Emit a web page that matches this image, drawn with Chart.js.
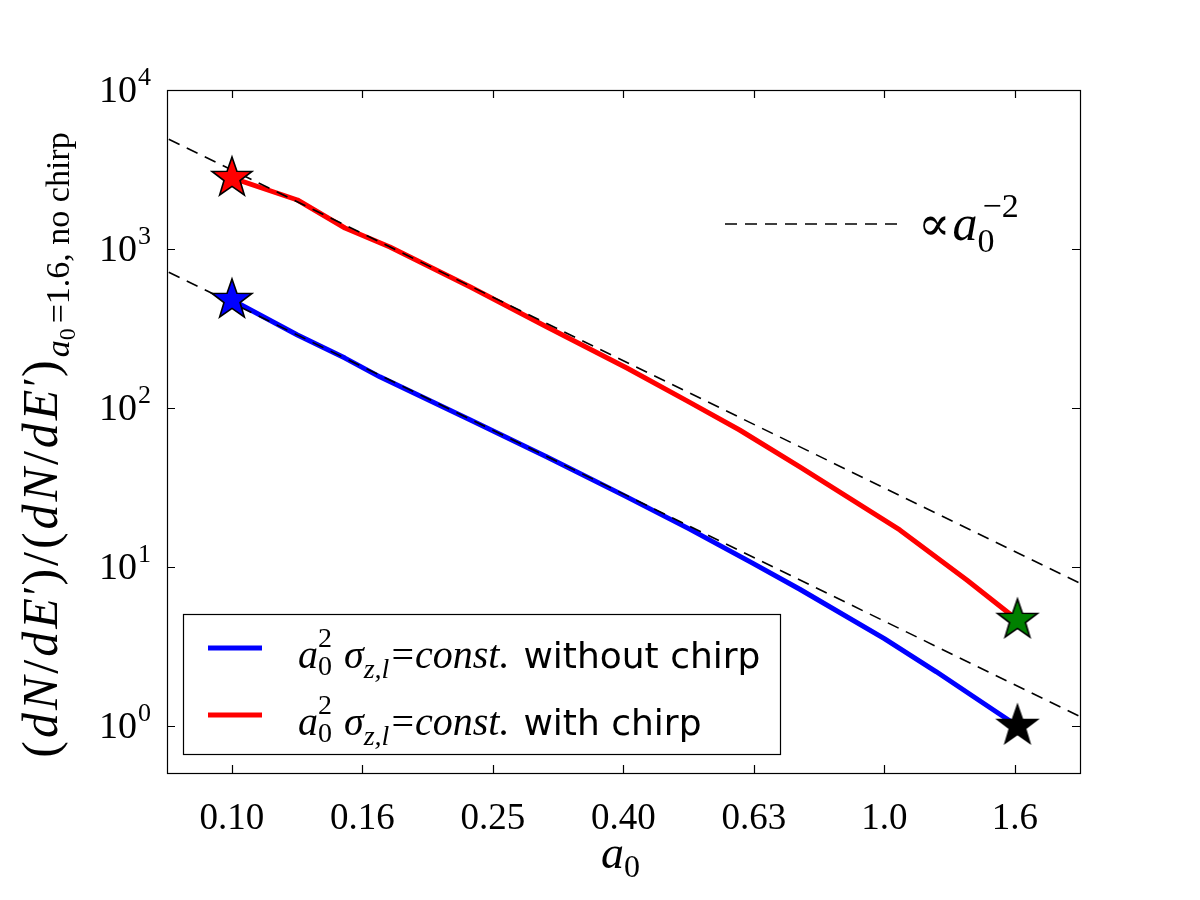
<!DOCTYPE html>
<html>
<head>
<meta charset="utf-8">
<script src="https://cdn.jsdelivr.net/npm/chart.js@4.4.1/dist/chart.umd.min.js"></script>
<style>
  html, body { margin: 0; padding: 0; background: #fff; }
  #wrap { width: 1200px; height: 900px; }
</style>
</head>
<body>
<div id="wrap"><canvas id="c" width="1200" height="900"></canvas></div>
<script>
// ---------- data ----------
const aNoChirp = [0.10, 0.126, 0.149, 0.1685, 0.232, 0.304, 0.40, 0.503, 0.63, 0.742, 1.0, 1.2, 1.4, 1.6];
const vNoChirp = [478, 288, 206, 157, 84, 49.2, 28.0, 17.3, 10.5, 7.24, 3.54, 2.20, 1.44, 1.0];

const aChirp = [0.10, 0.126, 0.149, 0.1746, 0.232, 0.304, 0.403, 0.5, 0.600, 0.742, 1.056, 1.338, 1.6];
const vChirp = [2797, 2033, 1355, 1030, 577, 323, 178.6, 110, 72.7, 42.6, 17.1, 8.28, 4.64];

// reference power-law guides (straight lines in log-log, end points)
const aGuide = [0.08, 2.0];
const vGuideUpper = [4906, 7.85];
const vGuideLower = [714, 1.14];

const xTickValues = [0.1, 0.1585, 0.2512, 0.3981, 0.631, 1.0, 1.585];
const xTickLabels = ["0.10", "0.16", "0.25", "0.40", "0.63", "1.0", "1.6"];
const yTickValues = [1, 10, 100, 1000, 10000];
const yTickExponents = ["0", "1", "2", "3", "4"];

const xRange = [0.0795, 1.995];
const yRange = [0.506, 10000];

// ---------- helpers ----------
const SERIF = '"Liberation Serif", "DejaVu Serif", serif';
const SANS = '"DejaVu Sans", "Liberation Sans", sans-serif';

function starImage(fill) {
  const R = 21, r = R * 0.4, size = 48;
  const cv = document.createElement('canvas');
  cv.width = size; cv.height = size;
  const g = cv.getContext('2d');
  g.beginPath();
  for (let i = 0; i < 10; i++) {
    const rad = i % 2 === 0 ? R : r;
    const ang = -Math.PI / 2 + i * Math.PI / 5;
    const px = size / 2 + rad * Math.cos(ang);
    const py = size / 2 + rad * Math.sin(ang);
    if (i === 0) g.moveTo(px, py); else g.lineTo(px, py);
  }
  g.closePath();
  g.fillStyle = fill;
  g.fill();
  g.lineWidth = 1.6;
  g.strokeStyle = '#000';
  g.lineJoin = 'miter';
  g.stroke();
  return cv;
}

// draw a run of text pieces; each piece {t, f (font), dy, sp}
function drawRun(ctx, x, y, parts, measureOnly) {
  let cx = x;
  for (const p of parts) {
    ctx.font = p.f;
    if (!measureOnly) ctx.fillText(p.t, cx, y + (p.dy || 0));
    cx += ctx.measureText(p.t).width + (p.sp || 0);
  }
  return cx - x;
}

function toPts(xs, ys) { return xs.map((x, i) => ({ x: x, y: ys[i] })); }

const starPoints = {
  red: [{ x: aChirp[0], y: vChirp[0] }],
  blue: [{ x: aNoChirp[0], y: vNoChirp[0] }],
  green: [{ x: aChirp[aChirp.length - 1], y: vChirp[vChirp.length - 1] }],
  black: [{ x: aNoChirp[aNoChirp.length - 1], y: vNoChirp[vNoChirp.length - 1] }]
};

// ---------- decoration plugin ----------
const deco = {
  id: 'deco',
  afterDatasetsDraw(chart) {
    const ctx = chart.ctx;
    ctx.save();
    ctx.fillStyle = '#000';
    ctx.textBaseline = 'alphabetic';
    ctx.textAlign = 'left';

    // --- guide label (top right) ---
    ctx.strokeStyle = '#000';
    ctx.lineWidth = 1.6;
    ctx.setLineDash([12, 8]);
    ctx.beginPath();
    ctx.moveTo(725, 224); ctx.lineTo(905, 224);
    ctx.stroke();
    ctx.setLineDash([]);
    drawRun(ctx, 918, 240, [
      { t: '\u221D', f: '48px ' + SERIF, sp: 2 },
      { t: 'a', f: 'italic 50px ' + SERIF },
      { t: '0', f: '34px ' + SERIF, dy: 12, sp: -12 },
      { t: '\u22122', f: '34px ' + SERIF, dy: -23 }
    ]);

    // --- legend box ---
    ctx.fillStyle = '#fff';
    ctx.fillRect(183.5, 614.5, 597, 140);
    ctx.strokeStyle = '#000';
    ctx.lineWidth = 1.2;
    ctx.strokeRect(183.5, 614.5, 597, 140);
    const entries = [
      { color: 'rgb(0,0,255)', y: 648, text: 'without chirp' },
      { color: 'rgb(255,0,0)', y: 715, text: 'with chirp' }
    ];
    for (const e of entries) {
      ctx.strokeStyle = e.color;
      ctx.lineWidth = 5;
      ctx.beginPath();
      ctx.moveTo(208, e.y); ctx.lineTo(262, e.y);
      ctx.stroke();
      ctx.fillStyle = '#000';
      const base = e.y + 20;
      drawRun(ctx, 298, base, [
        { t: 'a', f: 'italic 40px ' + SERIF },
        { t: '0', f: '28px ' + SERIF, dy: 7, sp: -14 },
        { t: '2', f: '28px ' + SERIF, dy: -21, sp: 12 },
        { t: '\u03C3', f: 'italic 40px ' + SERIF },
        { t: 'z,l', f: 'italic 28px ' + SERIF, dy: 10, sp: 2 },
        { t: '=', f: '40px ' + SERIF, sp: 1 },
        { t: 'const.', f: 'italic 40px ' + SERIF, sp: 14 },
        { t: e.text, f: '36px ' + SANS }
      ]);
    }
    ctx.restore();
  },
  afterDraw(chart) {
    const ctx = chart.ctx;
    const ca = chart.chartArea;
    const xs = chart.scales.x, ys = chart.scales.y;
    ctx.save();
    ctx.strokeStyle = '#000';
    ctx.lineWidth = 1.2;
    // frame
    ctx.strokeRect(Math.round(ca.left) + 0.5, Math.round(ca.top) + 0.5,
      Math.round(ca.right - ca.left), Math.round(ca.bottom - ca.top));
    // inward ticks
    const TL = 8;
    ctx.beginPath();
    for (const v of xTickValues) {
      const px = Math.round(xs.getPixelForValue(v)) + 0.5;
      ctx.moveTo(px, ca.bottom); ctx.lineTo(px, ca.bottom - TL);
      ctx.moveTo(px, ca.top); ctx.lineTo(px, ca.top + TL);
    }
    for (const v of yTickValues) {
      const py = Math.round(ys.getPixelForValue(v)) + 0.5;
      ctx.moveTo(ca.left, py); ctx.lineTo(ca.left + TL, py);
      ctx.moveTo(ca.right, py); ctx.lineTo(ca.right - TL, py);
    }
    ctx.stroke();

    // y tick labels 10^n
    ctx.fillStyle = '#000';
    ctx.textBaseline = 'alphabetic';
    ctx.textAlign = 'left';
    yTickValues.forEach((v, i) => {
      const py = ys.getPixelForValue(v);
      const parts = [
        { t: '10', f: '38px ' + SERIF, sp: 1 },
        { t: yTickExponents[i], f: '26px ' + SERIF, dy: -17 }
      ];
      const w = drawRun(ctx, 0, 0, parts, true);
      drawRun(ctx, 151 - w, py + 12, parts);
    });

    // x axis title a_0
    drawRun(ctx, 601, 868, [
      { t: 'a', f: 'italic 46px ' + SERIF },
      { t: '0', f: '32px ' + SERIF, dy: 9 }
    ]);

    // y axis title (rotated); glyphs slightly spaced to match the wider original math font
    const mainGlyphs = [
      ['(', false], ['d', true], ['N', true], ['/', false], ['d', true], ['E', true], ['\u2032', false], [')', false],
      ['/', false],
      ['(', false], ['d', true], ['N', true], ['/', false], ['d', true], ['E', true], ['\u2032', false], [')', false]
    ];
    const yParts = mainGlyphs.map(g => ({
      t: g[0],
      f: (g[1] ? 'italic ' : '') + (g[0] === '\u2032' ? '44px ' : '50px ') + SERIF,
      dy: g[0] === '\u2032' ? -4 : 0,
      sp: g[0] === '\u2032' ? 0 : 3
    }));
    yParts.push(
      { t: 'a', f: 'italic 34px ' + SERIF, dy: 12 },
      { t: '0', f: '24px ' + SERIF, dy: 18, sp: 5 },
      { t: '=1.6, no chirp', f: '34px ' + SERIF, dy: 12 }
    );
    const tw = drawRun(ctx, 0, 0, yParts, true);
    ctx.translate(57, 445);
    ctx.rotate(-Math.PI / 2);
    drawRun(ctx, -tw / 2, 0, yParts);
    ctx.restore();
  }
};

// ---------- chart ----------
const ctx = document.getElementById('c').getContext('2d');
new Chart(ctx, {
  type: 'scatter',
  data: {
    datasets: [
      { label: 'star red', data: starPoints.red, pointStyle: starImage('rgb(255,0,0)'), showLine: false, order: 0 },
      { label: 'star blue', data: starPoints.blue, pointStyle: starImage('rgb(0,0,255)'), showLine: false, order: 0 },
      { label: 'star green', data: starPoints.green, pointStyle: starImage('rgb(0,128,0)'), showLine: false, order: 0 },
      { label: 'star black', data: starPoints.black, pointStyle: starImage('rgb(0,0,0)'), showLine: false, order: 0 },
      { label: 'guide upper', data: toPts(aGuide, vGuideUpper), showLine: true, borderColor: '#000', borderWidth: 1.6,
        borderDash: [12, 8], pointRadius: 0, fill: false, order: 1 },
      { label: 'guide lower', data: toPts(aGuide, vGuideLower), showLine: true, borderColor: '#000', borderWidth: 1.6,
        borderDash: [12, 8], pointRadius: 0, fill: false, order: 1 },
      { label: 'without chirp', data: toPts(aNoChirp, vNoChirp), showLine: true, borderColor: 'rgb(0,0,255)', borderWidth: 5,
        pointRadius: 0, fill: false, order: 2, borderJoinStyle: 'round' },
      { label: 'with chirp', data: toPts(aChirp, vChirp), showLine: true, borderColor: 'rgb(255,0,0)', borderWidth: 5,
        pointRadius: 0, fill: false, order: 2, borderJoinStyle: 'round' }
    ]
  },
  options: {
    responsive: false,
    animation: false,
    devicePixelRatio: 1,
    layout: { padding: { left: 0, top: 90, right: 120, bottom: 0 } },
    plugins: { legend: { display: false }, tooltip: { enabled: false }, title: { display: false } },
    elements: { point: { radius: 10 } },
    scales: {
      x: {
        type: 'logarithmic',
        min: xRange[0], max: xRange[1],
        grid: { display: false, drawTicks: false },
        border: { display: false },
        afterBuildTicks: (s) => { s.ticks = xTickValues.map(v => ({ value: v })); },
        afterFit: (s) => { s.height = 127; },
        ticks: {
          autoSkip: false, maxRotation: 0, minRotation: 0,
          padding: 24, color: '#000',
          font: { family: 'Liberation Serif', size: 37 },
          callback: (v, i) => xTickLabels[i]
        }
      },
      y: {
        type: 'logarithmic',
        min: yRange[0], max: yRange[1],
        grid: { display: false, drawTicks: false },
        border: { display: false },
        afterBuildTicks: (s) => { s.ticks = yTickValues.map(v => ({ value: v })); },
        afterFit: (s) => { s.width = 167; },
        ticks: { display: false }
      }
    }
  },
  plugins: [deco]
});
</script>
</body>
</html>
